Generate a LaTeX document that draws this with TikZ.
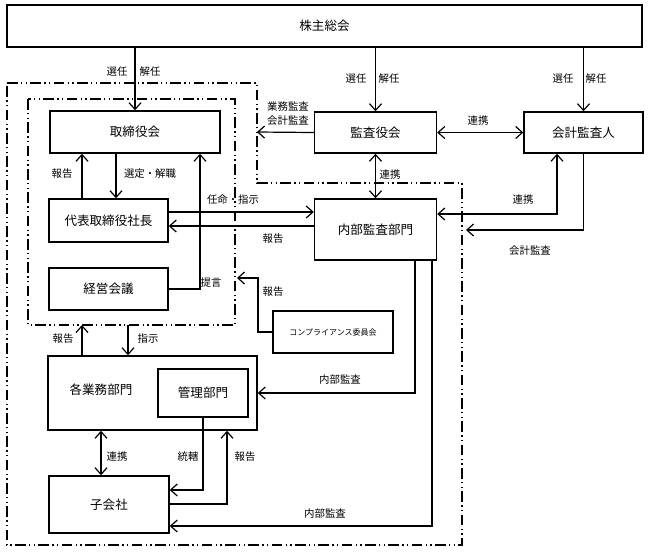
\documentclass[tikz,border=0pt]{standalone}
\usepackage{fontspec}
\setmainfont{Noto Sans CJK JP}
\usetikzlibrary{arrows.meta}

\begin{document}
\begin{tikzpicture}[x=0.75pt, y=-0.75pt, every node/.style={inner sep=1pt},
  box/.style={draw, line width=1.1pt, font=\fontsize{9.4}{11}\selectfont},
  wh/.style 2 args={minimum width=#1*0.75pt, minimum height=#2*0.75pt},
  lbl/.style={font=\fontsize{7.8}{9}\selectfont},
  arr/.style={line width=0.9pt, -{Straight Barb[length=5pt, width=9pt]}},
  darr/.style={line width=0.9pt, {Straight Barb[length=5pt, width=9pt]}-{Straight Barb[length=5pt, width=9pt]}},
  frame/.style={line width=0.9pt, dash pattern=on 8pt off 2.5pt on 1pt off 2.5pt on 1pt off 2.5pt}]
  \useasboundingbox (0,0) rectangle (650,551);

  \node[box, wh={635}{42}] (soukai) at (324.5,26) {株主総会};
  \node[box, wh={170}{42}] (torishimari) at (135,132) {取締役会};
  \node[box, wh={122}{41}] (kansa) at (375.5,132.5) {監査役会};
  \node[box, wh={119}{41}] (kaikei) at (583.5,132.5) {会計監査人};
  \node[box, wh={119}{43}] (shacho) at (108.5,220.5) {代表取締役社長};
  \node[box, wh={119}{42}] (keiei) at (108.5,289) {経営会議};
  \node[box, wh={122}{61}] (naibu) at (375.5,229.5) {内部監査部門};
  \node[box, wh={120}{42}, font=\fontsize{6}{7}\selectfont] (comp) at (333,332) {コンプライアンス委員会};
  \node[box, wh={209}{74}] (gyomu) at (152.5,393) {};
  \node[font=\fontsize{9.4}{11}\selectfont] (gyomutxt) at (101,390) {各業務部門};
  \node[box, wh={90}{48}] (kanri) at (203,393) {管理部門};
  \node[box, wh={120}{57}] (kogaisha) at (109,504.5) {子会社};

  \draw[frame] (7,83) -- (257,83) -- (257,183) -- (462,183) -- (462,545) -- (7,545) -- cycle;
  \draw[frame] (28,99) rectangle (235,325);

  \coordinate (xa) at (82,0);
  \coordinate (xb) at (116,0);
  \coordinate (xc) at (200,0);
  \coordinate (xd) at (128,0);
  \coordinate (xe) at (101,0);
  \coordinate (xf) at (227,0);
  \coordinate (xg) at (415,0);
  \coordinate (xh) at (432,0);
  \coordinate (xi) at (557,0);
  \coordinate (xj) at (258,0);
  \coordinate (ya) at (0,212);
  \coordinate (yb) at (0,226);
  \coordinate (yc) at (0,214);
  \coordinate (ye) at (0,278);
  \coordinate (yf) at (0,490);
  \coordinate (yg) at (0,504);
  \coordinate (yh) at (0,526);
  \coordinate (yi) at (0,325);
  \coordinate (kansaend) at (257,132);
  \coordinate (kaikeiend) at (466,230);
  \coordinate (compend) at (237,278);

  \draw[arr] (soukai.south -| torishimari) -- (torishimari.north);
  \draw[arr] (soukai.south -| kansa) -- (kansa.north);
  \draw[arr] (soukai.south -| kaikei) -- (kaikei.north);
  \draw[arr] (kansa.west) -- (kansaend);
  \draw[darr] (kansa.east) -- (kaikei.west);
  \draw[darr] (kansa.south) -- (naibu.north);
  \draw[arr] (torishimari.south -| xb) -- (shacho.north -| xb);
  \draw[arr] (shacho.north -| xa) -- (torishimari.south -| xa);
  \draw[arr] (keiei.east) -| (torishimari.south -| xc);
  \draw[arr] (shacho.east |- ya) -- (naibu.west |- ya);
  \draw[arr] (naibu.west |- yb) -- (shacho.east |- yb);
  \draw[darr] (naibu.east |- yc) -| (kaikei.south -| xi);
  \draw[arr] (kaikei.south) |- (kaikeiend);
  \draw[arr] (comp.west) -| (xj |- ye) -- (compend);
  \draw[arr] (gyomu.north -| xa) -- (xa |- yi);
  \draw[arr] (xd |- yi) -- (gyomu.north -| xd);
  \draw[arr] (naibu.south -| xg) |- (gyomu.east);
  \draw[arr] (naibu.south -| xh) |- (kogaisha.east |- yh);
  \draw[darr] (gyomu.south -| xe) -- (kogaisha.north -| xe);
  \draw[arr] (kanri.south) |- (kogaisha.east |- yf);
  \draw[arr] (kogaisha.east |- yg) -| (gyomu.south -| xf);

  \node[lbl] (l1) at (117,72) {選任};
  \node[lbl] (l2) at (150,72) {解任};
  \node[lbl] (l3) at (356,79) {選任};
  \node[lbl] (l4) at (389,79) {解任};
  \node[lbl] (l5) at (563,79) {選任};
  \node[lbl] (l6) at (596,79) {解任};
  \node[lbl] (l7) at (288,107) {業務監査};
  \node[lbl] (l8) at (288,121) {会計監査};
  \node[lbl] (l9) at (478,121) {連携};
  \node[lbl] (l10) at (390,175) {連携};
  \node[lbl] (l11) at (62,174) {報告};
  \node[lbl] (l12) at (150,174) {選定・解職};
  \node[lbl] (l13) at (233,200) {任命・指示};
  \node[lbl] (l14) at (273,239) {報告};
  \node[lbl] (l15) at (211,283) {提言};
  \node[lbl] (l16) at (523,200) {連携};
  \node[lbl] (l17) at (530,251) {会計監査};
  \node[lbl] (l18) at (273,292) {報告};
  \node[lbl] (l19) at (63,339) {報告};
  \node[lbl] (l20) at (148,339) {指示};
  \node[lbl] (l21) at (340,380) {内部監査};
  \node[lbl] (l22) at (117,457) {連携};
  \node[lbl] (l23) at (188,457) {統轄};
  \node[lbl] (l24) at (245,457) {報告};
  \node[lbl] (l25) at (325,514) {内部監査};
\end{tikzpicture}
\end{document}
